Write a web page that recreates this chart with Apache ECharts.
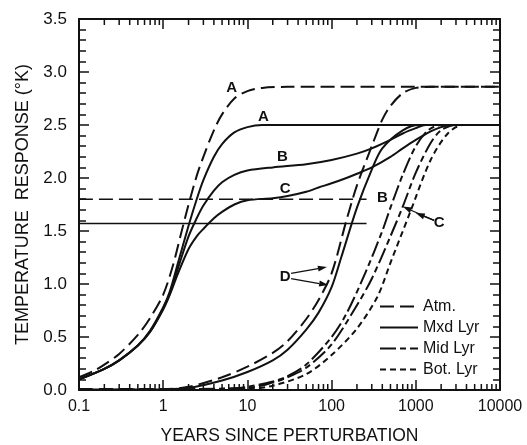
<!DOCTYPE html>
<html>
<head>
<meta charset="utf-8">
<script src="https://cdn.jsdelivr.net/npm/echarts@6/dist/echarts.min.js"></script>
<style>
  html, body { margin: 0; padding: 0; background: #fff; }
  #chart { width: 527px; height: 445px; }
</style>
</head>
<body>
<div id="chart"></div>
<script>
// Temperature response of the atmosphere and the ocean layers, [years, K]
const xTickLabels = ['0.1', '1', '10', '100', '1000', '10000'];
const decades = [0.1, 1, 10, 100, 1000];
const minorSteps = [2, 3, 4, 5, 6, 7, 8, 9];

const atmA = [[0.1,0.12],[0.15,0.18],[0.2,0.24],[0.3,0.34],[0.5,0.52],[0.7,0.68],[1,0.9],[1.3,1.17],[1.6,1.45],[2,1.75],[2.5,2.02],[3,2.2],[4,2.45],[5,2.6],[7,2.75],[10,2.82],[15,2.85],[30,2.86],[10000,2.86]];
const mxdA = [[0.1,0.1],[0.2,0.2],[0.3,0.28],[0.5,0.42],[0.7,0.56],[1,0.78],[1.2,0.93],[1.5,1.2],[2,1.55],[2.5,1.8],[3,1.98],[4,2.2],[5,2.32],[7,2.43],[10,2.48],[15,2.5],[10000,2.5]];
const mxdB = [[0.1,0.1],[0.2,0.2],[0.3,0.28],[0.5,0.42],[0.7,0.55],[1,0.77],[1.2,0.91],[1.5,1.15],[2,1.45],[2.5,1.62],[3,1.74],[4,1.88],[5,1.96],[7,2.03],[10,2.07],[20,2.1],[50,2.13],[100,2.17],[200,2.23],[300,2.28],[500,2.36],[700,2.42],[1000,2.47],[1300,2.5],[10000,2.5]];
const mxdC = [[0.1,0.1],[0.2,0.2],[0.3,0.28],[0.5,0.42],[0.7,0.55],[1,0.76],[1.2,0.9],[1.5,1.1],[2,1.33],[2.5,1.45],[3,1.52],[4,1.62],[5,1.68],[7,1.75],[10,1.79],[20,1.81],[30,1.83],[50,1.87],[70,1.91],[100,1.95],[150,2.0],[200,2.04],[300,2.1],[500,2.2],[700,2.28],[1000,2.36],[1500,2.44],[2000,2.48],[2500,2.5],[10000,2.5]];
const atmD = [[0.1,0.01],[1,0.01],[2,0.03],[5,0.12],[10,0.22],[20,0.35],[30,0.46],[50,0.67],[70,0.85],[100,1.1],[150,1.6],[200,1.93],[300,2.3],[400,2.55],[500,2.68],[700,2.8],[1000,2.85],[1500,2.86],[10000,2.86]];
const mxdD = [[0.1,0.005],[1,0.008],[2,0.02],[5,0.09],[10,0.17],[20,0.28],[30,0.38],[50,0.57],[70,0.73],[100,0.97],[130,1.25],[200,1.72],[300,2.08],[400,2.28],[700,2.45],[1100,2.5],[10000,2.5]];
const midB = [[0.1,0.0],[5,0.01],[10,0.03],[20,0.08],[30,0.13],[50,0.24],[100,0.5],[150,0.72],[250,1.1],[400,1.5],[500,1.72],[700,2.03],[1000,2.3],[1400,2.45],[2000,2.5],[10000,2.5]];
const midC = [[0.1,0.0],[10,0.02],[20,0.07],[30,0.12],[50,0.21],[100,0.43],[200,0.8],[300,1.05],[500,1.45],[700,1.73],[1000,2.05],[1500,2.33],[2000,2.45],[3000,2.5],[10000,2.5]];
const botC = [[0.1,0.0],[10,0.01],[20,0.04],[50,0.15],[100,0.33],[200,0.58],[350,0.88],[500,1.2],[850,1.67],[1500,2.17],[2400,2.42],[3600,2.5],[10000,2.5]];
const levelAtm = [[0.1,1.8],[260,1.8]];
const levelMxd = [[0.1,1.57],[260,1.57]];

// Curve letters [text, years, K] and pointer arrows [from years, from K, to years, to K]
const curveLabels = [['A',6.5,2.85],['A',15.5,2.58],['B',26,2.2],['C',28,1.9],['B',400,1.81],['C',1900,1.58],['D',28,1.07]];
const pointers = [[33,1.1,88,1.16],[33,1.05,91,0.99],[1650,1.6,700,1.73],[1650,1.6,1000,1.67]];

const ink = '#111';
const font = '"Liberation Sans", Arial, sans-serif';
const dashAtm = [14, 6];
const dashMid = [16, 4, 6, 4];
const dashBot = [6, 4];

const minorTicks = [];
decades.forEach(d => minorSteps.forEach(m => minorTicks.push([d * m, 0])));

function curve(name, data, dash, width) {
  return {
    name, type: 'line', data, symbol: 'none', smooth: 0.3,
    xAxisIndex: 0, yAxisIndex: 0,
    lineStyle: { color: ink, width: width || 2, type: dash || 'solid' },
    itemStyle: { color: ink },
    emphasis: { disabled: true }, silent: true, z: 3
  };
}

const chart = echarts.init(document.getElementById('chart'), null, { renderer: 'canvas' });

const xBase = {
  type: 'log', logBase: 10, min: 0.1, max: 10000,
  splitLine: { show: false },
  axisLine: { show: true, onZero: false, lineStyle: { color: ink, width: 2 } },
  axisTick: { show: true, inside: true, length: 10, lineStyle: { color: ink, width: 1.5 } },
  minorTick: { show: false }
};
const yBase = {
  type: 'value', min: 0, max: 3.5, interval: 0.5,
  splitLine: { show: false },
  axisLine: { show: true, onZero: false, lineStyle: { color: ink, width: 2 } },
  axisTick: { show: true, inside: true, length: 10, lineStyle: { color: ink, width: 1.5 } },
  minorTick: { show: true, splitNumber: 5, length: 7, lineStyle: { color: ink, width: 1.5 } },
  minorSplitLine: { show: false }
};

chart.setOption({
  animation: false,
  backgroundColor: '#fff',
  grid: { left: 79, right: 27, top: 19, bottom: 55, containLabel: false, outerBoundsMode: 'none' },
  xAxis: [
    Object.assign({}, xBase, {
      position: 'bottom',
      axisLabel: {
        color: ink, fontFamily: font, fontSize: 16, margin: 9,
        formatter: v => xTickLabels[Math.round(Math.log10(v)) + 1]
      },
      name: 'YEARS SINCE PERTURBATION', nameLocation: 'middle', nameGap: 37,
      nameTextStyle: { color: ink, fontFamily: font, fontSize: 17.5 }
    }),
    Object.assign({}, xBase, { position: 'top', axisLabel: { show: false } })
  ],
  yAxis: [
    Object.assign({}, yBase, {
      position: 'left',
      axisLabel: { color: ink, fontFamily: font, fontSize: 17, margin: 12, formatter: v => v.toFixed(1) },
      name: 'TEMPERATURE  RESPONSE (°K)', nameLocation: 'middle', nameGap: 47, nameRotate: 90,
      nameTextStyle: { color: ink, fontFamily: font, fontSize: 18 }
    }),
    Object.assign({}, yBase, { position: 'right', axisLabel: { show: false } })
  ],
  legend: {
    data: ['Atm.', 'Mxd Lyr', 'Mid Lyr', 'Bot. Lyr'],
    orient: 'vertical', left: 374, top: 293,
    itemWidth: 38, itemHeight: 14, itemGap: 4,
    selectedMode: false,
    itemStyle: { color: 'rgba(0,0,0,0)', borderColor: 'rgba(0,0,0,0)', borderWidth: 0, opacity: 0 },
    textStyle: { color: ink, fontFamily: font, fontSize: 16, lineHeight: 17 }
  },
  series: [
    curve('Atm.', atmA, dashAtm),
    curve('Mxd Lyr', mxdA),
    curve('Mid Lyr', midB, dashMid),
    curve('Bot. Lyr', botC, dashBot),
    curve('Mxd Lyr', mxdB),
    curve('Mxd Lyr', mxdC),
    curve('Atm.', atmD, dashAtm),
    curve('Mxd Lyr', mxdD),
    curve('Mid Lyr', midC, dashMid),
    curve('Atm.', levelAtm, dashAtm, 1.5),
    curve('Mxd Lyr', levelMxd, null, 1.5),
    {
      type: 'custom', xAxisIndex: 0, yAxisIndex: 0, data: minorTicks, silent: true, clip: false, z: 6,
      renderItem: (params, api) => {
        const b = api.coord([api.value(0), 0]);
        const t = api.coord([api.value(0), 3.5]);
        const st = { stroke: ink, lineWidth: 1.5 };
        return { type: 'group', children: [
          { type: 'line', shape: { x1: b[0], y1: b[1], x2: b[0], y2: b[1] - 6 }, style: st },
          { type: 'line', shape: { x1: t[0], y1: t[1], x2: t[0], y2: t[1] + 6 }, style: st }
        ] };
      }
    }
  ]
});

// Curve letters and the arrows that point at their curves
const toPx = p => chart.convertToPixel({ xAxisIndex: 0, yAxisIndex: 0 }, p);
const graphics = [];
curveLabels.forEach(([txt, t, v]) => {
  const p = toPx([t, v]);
  graphics.push({
    type: 'text', x: p[0], y: p[1], z: 10,
    style: { text: txt, fill: ink, font: 'bold 15px ' + font, align: 'center', verticalAlign: 'middle' }
  });
});
pointers.forEach(([t0, v0, t1, v1]) => {
  const a = toPx([t0, v0]);
  const b = toPx([t1, v1]);
  const dx = b[0] - a[0], dy = b[1] - a[1];
  const len = Math.hypot(dx, dy);
  const ux = dx / len, uy = dy / len;
  const hl = 9, hw = 3;
  const bx = b[0] - ux * hl, by = b[1] - uy * hl;
  graphics.push({ type: 'line', z: 10, shape: { x1: a[0], y1: a[1], x2: bx, y2: by }, style: { stroke: ink, lineWidth: 1.3 } });
  graphics.push({
    type: 'polygon', z: 10,
    shape: { points: [[b[0], b[1]], [bx - uy * hw, by + ux * hw], [bx + uy * hw, by - ux * hw]] },
    style: { fill: ink }
  });
});
chart.setOption({ graphic: graphics });
</script>
</body>
</html>
